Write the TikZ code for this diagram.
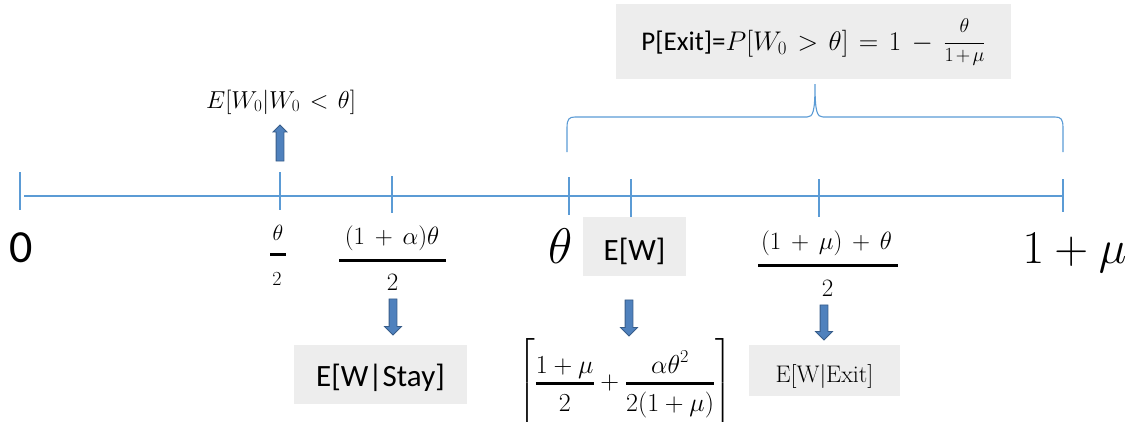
\RequirePackage{fix-cm}
\documentclass[tikz,border=0pt]{standalone}
\usepackage{amsmath}
\usepackage{fontspec}
\usetikzlibrary{shapes.arrows}
\newfontfamily\calfont{Carlito}
\definecolor{axisblue}{RGB}{91,155,213}
\definecolor{boxgray}{RGB}{237,237,237}
\definecolor{arrfill}{RGB}{79,129,189}
\definecolor{arrdraw}{RGB}{56,93,138}
\begin{document}
\begin{tikzpicture}[x=1pt,y=-1pt,
  axisline/.style={draw=axisblue,line width=1.3pt},
  braceline/.style={draw=axisblue,line width=1.1pt},
  tickline/.style={draw=axisblue,line width=1.2pt},
  fracbar/.style={draw=black,line width=3pt},
  graybox/.style={fill=boxgray,inner sep=0pt,text depth=0pt},
  blockarrow/.style={single arrow,draw=arrdraw,fill=arrfill,line width=0.8pt,
    inner sep=3.5pt,single arrow head extend=4.5pt,minimum height=36pt},
  lbl/.style={inner sep=0pt}]
\useasboundingbox (0,0) rectangle (1133,421);

% ---- axis and ticks
\coordinate (axL) at (24,196);
\coordinate (axR) at (1063,196);
\draw[axisline] (axL) -- (axR);
\coordinate (t0a) at (20,172);   \coordinate (t0b) at (20,210);
\coordinate (t1a) at (280,172);  \coordinate (t1b) at (280,210);
\coordinate (t2a) at (392,176);  \coordinate (t2b) at (392,213);
\coordinate (t3a) at (569,177);  \coordinate (t3b) at (569,215);
\coordinate (t4a) at (631,179);  \coordinate (t4b) at (631,217);
\coordinate (t5a) at (819,179);  \coordinate (t5b) at (819,217);
\coordinate (t6a) at (1063,179); \coordinate (t6b) at (1063,212);
\foreach \t in {t0,t1,t2,t3,t4,t5,t6} \draw[tickline] (\t a) -- (\t b);

% ---- brace
\draw[braceline] (567,152) -- (567,128) .. controls (567,119) and (569,117) .. (575,117)
  -- (807,117) .. controls (813,117) and (815,112) .. (815,84)
  .. controls (815,112) and (817,117) .. (823,117)
  -- (1055,117) .. controls (1061,117) and (1063,119) .. (1063,128) -- (1063,152);

% ---- top box
\node[graybox,minimum width=395pt,minimum height=75pt,text height=17pt] (pexit) at (813.5,41.5)
  {\fontsize{27}{30}\selectfont\thickmuskip=7mu plus 5mu\medmuskip=7mu plus 2mu minus 4mu%
   {\calfont P[Exit]=}$P[W_0>\theta]=1-\frac{\mbox{\fontsize{20}{22}\selectfont$\theta$}\rule[-9pt]{0pt}{0pt}}%
   {\rule{0pt}{17pt}\mbox{\fontsize{20}{22}\selectfont$1\mskip2mu{+}\mskip2mu\mu$}}$};

% ---- upper conditional expectation
\node[lbl,anchor=base] (econd) at (281,108)
  {\fontsize{24.5}{28}\selectfont\thickmuskip=7mu plus 5mu$E[W_0|W_0<\theta]$};
\node[blockarrow,rotate=90,single arrow head extend=3pt] (uparr) at (280,145) {};

% ---- axis labels
\node[lbl,anchor=base] (lzero) at (21.5,262) {\calfont\fontsize{46}{50}\selectfont 0};
\node[lbl,anchor=base] (ltheta) at (560.5,263) {\fontsize{50}{56}\selectfont$\theta$};
\node[lbl,anchor=base] (lonemu) at (1074.5,263)
  {\fontsize{47}{52}\selectfont$1\mskip4mu{+}\mskip4mu\mu$};

% theta/2
\node[lbl] (f1n) at (278,232.5) {\fontsize{22}{25}\selectfont$\theta$};
\coordinate (f1l) at (270,254.5); \coordinate (f1r) at (286,254.5);
\draw[fracbar] (f1l) -- (f1r);
\node[lbl] (f1d) at (277,279) {\fontsize{20}{25}\selectfont$2$};

% (1+alpha)theta/2
\node[lbl] (f2n) at (392,238)
  {\fontsize{25}{28}\selectfont\medmuskip=7mu plus 2mu minus 4mu$(1+\alpha)\theta$};
\coordinate (f2l) at (339,260); \coordinate (f2r) at (446,260);
\draw[fracbar] (f2l) -- (f2r);
\node[lbl] (f2d) at (392.5,282) {\fontsize{25}{28}\selectfont$2$};

% ((1+mu)+theta)/2
\node[lbl] (f3n) at (826.5,243.5)
  {\fontsize{25}{28}\selectfont\medmuskip=7mu plus 2mu minus 4mu$(1+\mu)+\theta$};
\coordinate (f3l) at (758,265); \coordinate (f3r) at (898,265);
\draw[fracbar] (f3l) -- (f3r);
\node[lbl] (f3d) at (827.5,288.5) {\fontsize{25}{28}\selectfont$2$};

% E[W] box
\node[graybox,minimum width=103pt,minimum height=59pt,text height=27pt] (ew) at (634.5,246.5)
  {\calfont\fontsize{31}{36}\selectfont E[W]};

% ---- down arrows
\node[blockarrow,rotate=-90] (ar1) at (393,315) {};
\node[blockarrow,rotate=-90] (ar2) at (629,316) {};
\node[blockarrow,rotate=-90,minimum height=35pt] (ar3) at (824,320.5) {};

% ---- bottom results
\node[graybox,minimum width=173pt,minimum height=59pt,text height=24.4pt] (stay) at (380.5,374.5)
  {\calfont\fontsize{31}{36}\selectfont E[W|Stay]};
\node[lbl,anchor=base] (ewexpr) at (625,389.5)
  {\fontsize{26}{30}\selectfont$\left[\rule[-34.5pt]{0pt}{47.5pt}%
   \genfrac{}{}{3pt}{1}{\displaystyle 1+\mu}{\displaystyle\rule{0pt}{24pt}2}
   +\genfrac{}{}{3pt}{1}{\displaystyle\alpha\theta^2\vphantom{\mu}}{\displaystyle\rule{0pt}{24pt}2(1+\mu)}\right]$};
\node[graybox,minimum width=151pt,minimum height=51pt,text height=23pt] (exit) at (824.5,370.5)
  {\fontsize{24}{28}\selectfont E[W|Exit]};
\end{tikzpicture}
\end{document}
